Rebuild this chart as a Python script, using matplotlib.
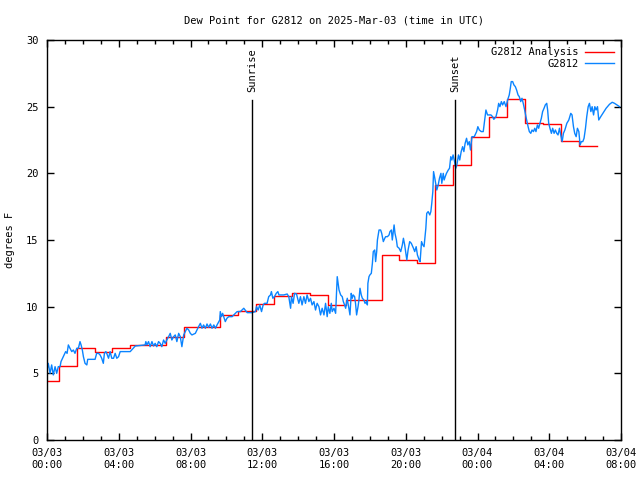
import numpy as np
import matplotlib
matplotlib.use('Agg')
import matplotlib.pyplot as plt
from matplotlib.ticker import FixedLocator, MultipleLocator

# hours since 03/03 00:00 UTC
ana_hours = [0, 1, 2, 3, 4, 5, 6, 7, 8, 9, 10, 11, 12, 13, 14, 15,
             16, 17, 18, 19, 20, 21, 22, 23, 24, 25, 26, 27, 28, 29, 30]
ana_dewpt = [4.4, 5.55, 6.9, 6.6, 6.9, 7.1, 7.1, 7.7, 8.45, 8.45, 9.4, 9.65,
             10.2, 10.8, 11.0, 10.85, 10.1, 10.5, 10.5, 13.9, 13.5, 13.25,
             19.1, 20.6, 22.7, 24.25, 25.6, 23.8, 23.7, 22.4, 22.05]

obs_hours = [0.0, 0.07, 0.17, 0.26, 0.35, 0.45, 0.54, 0.63, 0.73, 0.78, 0.91, 1.04,
             1.12, 1.19, 1.28, 1.38, 1.47, 1.56, 1.66, 1.75, 1.84, 1.9, 1.97, 2.03,
             2.12, 2.22, 2.27, 2.68, 2.77, 2.87, 2.96, 3.05, 3.14, 3.2, 3.28, 3.33,
             3.43, 3.52, 3.61, 3.71, 3.8, 3.89, 3.99, 4.08, 4.64, 4.92, 5.47, 5.51,
             5.57, 5.66, 5.75, 5.85, 5.94, 6.03, 6.12, 6.22, 6.31, 6.4, 6.5, 6.59,
             6.68, 6.78, 6.87, 6.96, 7.06, 7.15, 7.24, 7.34, 7.43, 7.52, 7.62, 7.71,
             7.8, 7.9, 7.99, 8.08, 8.27,
             8.45, 8.55, 8.64, 8.73, 8.83, 8.92, 9.01, 9.11, 9.2, 9.3, 9.39, 9.48,
             9.63, 9.66, 9.72, 9.79, 9.85, 9.94, 10.03, 10.13, 10.32, 10.41, 10.5,
             10.6, 10.78, 10.97, 11.16, 11.44, 11.62, 11.68, 11.77, 11.86, 11.96,
             12.05, 12.12, 12.27, 12.36, 12.46, 12.51, 12.59, 12.68, 12.78, 12.87,
             12.93, 13.2, 13.39, 13.48, 13.58, 13.63, 13.72, 13.8, 13.91, 14.04,
             14.13, 14.22, 14.32, 14.41, 14.5, 14.6, 14.69, 14.78, 14.88, 14.97,
             15.06, 15.16, 15.25, 15.34, 15.44, 15.53, 15.62, 15.68, 15.77, 15.85,
             15.9, 16.0, 16.09, 16.18,
             16.28, 16.37, 16.46, 16.52, 16.59, 16.65, 16.74, 16.78, 16.83, 16.89,
             16.96, 17.02, 17.07, 17.15, 17.2, 17.26, 17.34, 17.39, 17.45, 17.52,
             17.58, 17.67, 17.73, 17.82, 17.86, 17.89, 17.95, 18.0, 18.08, 18.14,
             18.19, 18.27, 18.32, 18.38, 18.42, 18.51, 18.6, 18.66, 18.75, 18.83,
             18.88, 18.98, 19.07, 19.12, 19.2, 19.25, 19.35, 19.4, 19.48, 19.53,
             19.63, 19.72, 19.81, 19.87, 19.94, 20.06, 20.13, 20.22, 20.31, 20.43,
             20.5, 20.58, 20.65, 20.75, 20.8, 20.88, 20.95, 21.02, 21.12, 21.17,
             21.25, 21.34, 21.4, 21.45, 21.51,
             21.55, 21.62, 21.68, 21.73, 21.81, 21.88, 21.96, 22.01, 22.09, 22.14,
             22.2, 22.27, 22.37, 22.44, 22.51, 22.57, 22.64, 22.72,
             22.79, 22.85, 22.94, 23.01, 23.09, 23.17, 23.24, 23.31, 23.39, 23.46,
             23.54, 23.61, 23.69, 23.82, 23.95, 24.02, 24.1, 24.21, 24.32, 24.4,
             24.47, 24.56, 24.75, 24.84, 24.91, 25.03, 25.12, 25.18, 25.25, 25.33,
             25.4, 25.49, 25.59, 25.68, 25.77, 25.83, 25.88, 25.96, 26.03, 26.11,
             26.18, 26.26, 26.33, 26.41, 26.48, 26.55, 26.63, 26.7, 26.76, 26.82,
             26.89, 26.97, 27.04, 27.12, 27.19, 27.26, 27.34, 27.41, 27.48, 27.56,
             27.63, 27.71, 27.78, 27.86, 27.91, 27.97, 28.04, 28.12, 28.19, 28.27,
             28.34, 28.42, 28.49, 28.57, 28.64, 28.72, 28.79, 28.87, 28.98, 29.09,
             29.2, 29.27, 29.35, 29.42, 29.5, 29.57, 29.65, 29.72, 29.79, 29.87,
             29.94, 30.02, 30.09, 30.17, 30.24, 30.32, 30.39, 30.47, 30.54, 30.61,
             30.69, 30.76, 30.87, 30.99, 31.17, 31.36, 31.51, 31.64, 31.77, 31.92]
obs_dewpt = [5.25, 5.75, 5.0, 5.63, 4.88, 5.5, 5.0, 5.5, 5.5, 5.88, 6.25, 6.63,
             6.5, 7.13, 6.88, 6.63, 6.75, 6.5, 6.88, 6.88, 7.38, 7.13, 6.75, 6.25,
             5.75, 5.63, 6.05, 6.05, 6.5, 6.5, 6.38, 6.13, 5.75, 6.5, 6.63, 6.5,
             6.13, 6.63, 6.13, 6.13, 6.5, 6.13, 6.25, 6.63, 6.63, 7.05, 7.13, 7.38,
             7.13, 7.38, 7.0, 7.38, 7.05, 7.25, 7.0, 7.38, 7.25, 7.0, 7.5, 7.25,
             7.5, 7.75, 8.0, 7.5, 7.75, 7.88, 7.38, 8.0, 7.75, 7.0, 7.88, 8.13,
             8.38, 8.25, 8.0, 7.88, 8.0,
             8.5, 8.75, 8.38, 8.63, 8.38, 8.7, 8.45, 8.7, 8.38, 8.63, 8.38, 8.63,
             9.0, 9.63, 9.25, 9.5, 9.25, 8.88, 9.13, 9.25, 9.25, 9.38, 9.5,
             9.63, 9.63, 9.88, 9.55, 9.55, 9.63, 10.0, 9.75, 10.13, 9.63,
             10.13, 10.25, 10.25, 10.75, 10.88, 11.13, 10.63, 10.75, 11.0, 11.13,
             10.88, 10.88, 10.95, 10.75, 9.88, 10.75, 10.25, 11.0, 10.95, 10.25,
             10.75, 10.13, 10.75, 10.25, 10.88, 10.38, 10.63, 10.13, 10.38, 9.75,
             10.25, 10.0, 9.38, 9.88, 9.38, 10.25, 9.25, 10.0, 9.5, 10.25,
             9.63, 9.88, 9.5, 12.25,
             11.25, 10.88, 10.75, 10.38, 10.13, 9.88, 10.63, 10.25, 9.88, 9.38,
             11.0, 10.63, 10.88, 10.75, 10.25, 9.38, 10.0, 10.5, 11.38, 10.88,
             10.63, 10.5, 10.25, 10.38, 10.13, 11.75, 12.25, 12.38, 12.5, 13.25,
             14.13, 14.25, 13.38, 14.13, 15.0, 15.75, 15.75, 15.5, 14.88, 15.13,
             15.25, 15.25, 15.38, 15.63, 15.75, 15.0, 16.13, 15.5, 15.0, 14.5,
             14.38, 14.13, 14.63, 15.13, 14.63, 13.5, 14.25, 14.88, 14.75, 14.38,
             14.13, 14.5, 13.88, 13.5, 13.38, 14.88, 14.63, 14.5, 15.88, 17.0,
             17.13, 16.88, 17.13, 17.75, 18.63,
             20.13, 19.63, 19.13, 18.75, 19.13, 19.63, 20.0, 19.25, 20.0, 19.5,
             19.75, 20.0, 20.25, 20.38, 21.25, 21.0, 21.38, 20.88,
             20.38, 20.63, 21.38, 21.0, 21.63, 22.0, 21.63, 22.25, 22.63, 22.13,
             22.38, 21.75, 22.75, 22.75, 23.13, 23.5, 23.25, 23.13, 23.13, 24.0,
             24.75, 24.38, 24.38, 24.25, 24.05, 24.25, 24.75, 25.25, 25.0, 25.38,
             25.13, 25.38, 25.0, 25.5, 25.88, 26.38, 26.88, 26.88, 26.63, 26.5,
             26.25, 25.88, 25.75, 25.38, 25.63, 25.25, 24.75, 24.25, 23.88, 23.5,
             23.13, 23.0, 23.25, 23.13, 23.38, 23.13, 23.63, 23.38, 23.75, 24.13,
             24.63, 24.88, 25.13, 25.25, 24.75, 23.75, 23.38, 23.0, 23.38, 23.0,
             23.25, 23.0, 22.88, 23.38, 22.88, 22.38, 23.0, 23.25, 23.75, 24.0,
             24.5, 24.38, 23.5, 23.0, 22.75, 23.38, 23.13, 22.13, 22.38, 22.38,
             22.63, 23.38, 24.25, 25.0, 25.25, 24.63, 25.0, 24.38, 25.0, 24.75,
             25.0, 24.0, 24.25, 24.5, 24.88, 25.18, 25.33, 25.25, 25.13, 25.0]

sunrise = 11.43
sunset = 22.74
x_major = [0, 4, 8, 12, 16, 20, 24, 28, 32]
x_labels = ['03/03\n00:00', '03/03\n04:00', '03/03\n08:00', '03/03\n12:00',
            '03/03\n16:00', '03/03\n20:00', '03/04\n00:00', '03/04\n04:00',
            '03/04\n08:00']

plt.rcParams['font.family'] = 'DejaVu Sans Mono'
plt.rcParams['font.size'] = 7.5

fig = plt.figure(figsize=(6.4, 4.8), dpi=100)
ax = fig.add_axes([47 / 640, 40 / 480, 574 / 640, 400 / 480])

# analysis: each hourly value holds from 0.35 h before to 0.65 h after
edges = [max(h - 0.35, 0) for h in ana_hours] + [ana_hours[-1] + 0.65]
ax.step(edges, ana_dewpt + [ana_dewpt[-1]], where='post', color='#ff0000',
        lw=1.0, label='G2812 Analysis')
ax.plot(obs_hours, obs_dewpt, color='#0a84ff', lw=1.0, label='G2812')

for t, name in [(sunrise, 'Sunrise'), (sunset, 'Sunset')]:
    ax.plot([t, t], [0, 25.5], color='black', lw=1.0)
    ax.annotate(name, (t, 25.5), xytext=(0, 6), textcoords='offset points',
                rotation=90, ha='center', va='bottom')

ax.set_xlim(0, 32)
ax.set_ylim(0, 30)
ax.xaxis.set_major_locator(FixedLocator(x_major))
ax.set_xticklabels(x_labels)
ax.xaxis.set_minor_locator(MultipleLocator(1))
ax.yaxis.set_major_locator(MultipleLocator(5))
ax.tick_params(which='both', direction='in', top=True, right=True, width=1)
ax.tick_params(which='major', length=5, pad=6)
ax.tick_params(which='minor', length=3)
for s in ax.spines.values():
    s.set_linewidth(1)

ax.set_ylabel('degrees F', labelpad=8)
ax.set_title('Dew Point for G2812 on 2025-Mar-03 (time in UTC)', fontsize=7.5, pad=12)
ax.legend(loc='upper right', frameon=False, markerfirst=False, handlelength=2.8,
          handletextpad=0.6, labelspacing=0.15, borderaxespad=0.3)

fig.savefig('out.png', dpi=100)
